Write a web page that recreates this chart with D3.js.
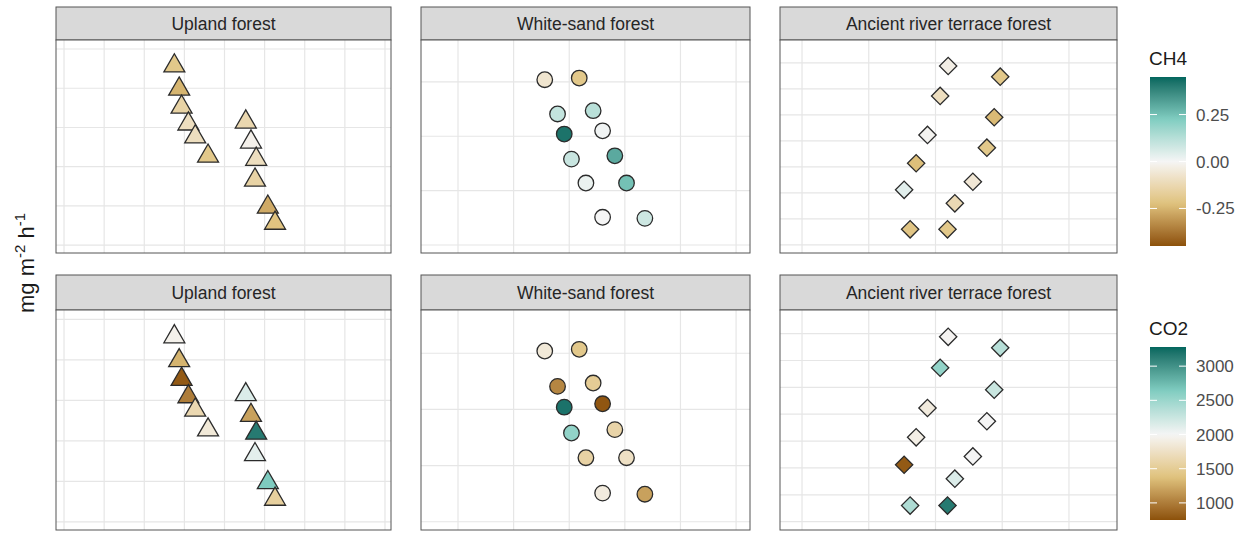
<!DOCTYPE html>
<html>
<head>
<meta charset="utf-8">
<script src="https://cdn.jsdelivr.net/npm/d3@7"></script>
<style>
  body { margin: 0; background: #fff; }
  text { font-family: "Liberation Sans", Arial, sans-serif; }
</style>
</head>
<body>
<div id="chart"></div>
<script>
// sites (facets)
const sites = ["Upland forest", "White-sand forest", "Ancient river terrace forest"];

// plot coordinates per site (grid units, one gridline every 10)
const uplandX = [27.5, 28.7, 29.3, 31.0, 32.7, 35.9, 45.3, 46.6, 47.9, 47.6, 50.8, 52.6];
const uplandY = [45.7, 39.8, 35.2, 30.9, 27.6, 22.7, 31.4, 26.3, 21.9, 16.6, 9.7, 5.6];
const uplandCH4 = [-0.20, -0.25, -0.15, -0.10, -0.10, -0.20, -0.13, -0.02, -0.10, -0.15, -0.27, -0.22];
const uplandCO2 = [1950, 1300, 800, 1000, 1650, 1850, 2150, 1200, 3150, 2100, 2650, 1550];

const whiteX = [15.6, 21.8, 17.9, 24.3, 19.1, 26.0, 20.4, 28.2, 23.0, 30.3, 26.0, 33.6];
const whiteY = [30.4, 30.7, 24.1, 24.7, 20.4, 21.0, 15.8, 16.4, 11.4, 11.4, 5.1, 4.9];
const whiteCH4 = [-0.07, -0.20, 0.10, 0.12, 0.42, 0.01, 0.09, 0.30, 0.02, 0.25, 0.00, 0.08];
const whiteCO2 = [1850, 1450, 1050, 1500, 3200, 780, 2550, 1600, 1580, 1750, 1880, 1200];

const terraceX = [21.9, 29.7, 20.7, 28.8, 18.8, 27.7, 17.1, 25.6, 15.3, 22.9, 16.2, 21.8];
const terraceY = [68.8, 64.7, 57.3, 49.1, 42.3, 37.4, 31.4, 24.3, 21.2, 16.0, 6.0, 6.0];
const terraceCH4 = [-0.03, -0.20, -0.10, -0.24, -0.01, -0.20, -0.23, -0.06, 0.04, -0.12, -0.21, -0.20];
const terraceCO2 = [1980, 2350, 2550, 2250, 1880, 2000, 1920, 2000, 800, 2150, 2400, 3150];

// colour bar tick labels
const ch4Ticks = [0.25, 0.00, -0.25];
const co2Ticks = [3000, 2500, 2000, 1500, 1000];

// build table
const siteData = [
  { name: sites[0], x: uplandX, y: uplandY, ch4: uplandCH4, co2: uplandCO2, shape: "triangle",
    xDomain: [-2, 81.5], yDomain: [-2, 52.3] },
  { name: sites[1], x: whiteX, y: whiteY, ch4: whiteCH4, co2: whiteCO2, shape: "circle",
    xDomain: [-6.65, 52.5], yDomain: [-1.47, 37.7] },
  { name: sites[2], x: terraceX, y: terraceY, ch4: terraceCH4, co2: terraceCO2, shape: "diamond",
    xDomain: [-3.3, 47.2], yDomain: [-3.1, 78.8] }
];

const W = 1248, H = 533;
const svg = d3.select("#chart").append("svg")
  .attr("width", W)
  .attr("height", H);

const cols = [{ x0: 56, x1: 391 }, { x0: 421, x1: 750 }, { x0: 780, x1: 1117 }];
const rows = [
  { stripTop: 7, top: 40, bottom: 253, key: "ch4" },
  { stripTop: 275, top: 310, bottom: 530, key: "co2" }
];

const pal = ["#8c510a", "#dfc27d", "#f5f5f5", "#80cdc1", "#01665e"];
const colour = {
  ch4: d3.scaleLinear().domain([-0.45, -0.225, 0, 0.225, 0.45]).range(pal).interpolate(d3.interpolateLab),
  co2: d3.scaleLinear().domain([750, 1375, 2000, 2640, 3280]).range(pal).interpolate(d3.interpolateLab)
};

const symbols = {
  triangle: d3.symbol(d3.symbolTriangle, 190)(),
  circle: d3.symbol(d3.symbolCircle, 190)(),
  diamond: d3.symbol(d3.symbolSquare, 150)()
};

rows.forEach(row => {
  siteData.forEach((site, i) => {
    const c = cols[i];
    const x = d3.scaleLinear().domain(site.xDomain).range([c.x0, c.x1]);
    const y = d3.scaleLinear().domain(site.yDomain).range([row.bottom, row.top]);
    const g = svg.append("g");

    // strip
    g.append("rect")
      .attr("x", c.x0).attr("y", row.stripTop)
      .attr("width", c.x1 - c.x0).attr("height", row.top - row.stripTop)
      .attr("fill", "#d9d9d9").attr("stroke", "#555").attr("stroke-width", 1);
    g.append("text")
      .attr("x", (c.x0 + c.x1) / 2).attr("y", (row.stripTop + row.top) / 2 + 6)
      .attr("text-anchor", "middle").attr("font-size", 17.5).attr("fill", "#262626")
      .text(site.name);

    // panel background + grid
    g.append("rect")
      .attr("x", c.x0).attr("y", row.top)
      .attr("width", c.x1 - c.x0).attr("height", row.bottom - row.top)
      .attr("fill", "#fff");
    const xs = d3.range(0, site.xDomain[1], 10);
    const ys = d3.range(0, site.yDomain[1], 10);
    g.selectAll(".gx").data(xs).join("line")
      .attr("x1", d => x(d)).attr("x2", d => x(d))
      .attr("y1", row.top).attr("y2", row.bottom)
      .attr("stroke", "#e6e6e6").attr("stroke-width", 1.2);
    g.selectAll(".gy").data(ys).join("line")
      .attr("x1", c.x0).attr("x2", c.x1)
      .attr("y1", d => y(d)).attr("y2", d => y(d))
      .attr("stroke", "#e6e6e6").attr("stroke-width", 1.2);

    // points
    const pts = site.x.map((v, k) => ({ x: v, y: site.y[k], v: site[row.key][k] }));
    g.selectAll(".pt").data(pts).join("path")
      .attr("d", symbols[site.shape])
      .attr("transform", d => `translate(${x(d.x)},${y(d.y)})` + (site.shape === "diamond" ? " rotate(45)" : ""))
      .attr("fill", d => colour[row.key](d.v))
      .attr("stroke", "#2b2b2b").attr("stroke-width", 1.3);

    // panel border
    g.append("rect")
      .attr("x", c.x0).attr("y", row.top)
      .attr("width", c.x1 - c.x0).attr("height", row.bottom - row.top)
      .attr("fill", "none").attr("stroke", "#555").attr("stroke-width", 1);
  });
});

// y axis title
const yl = svg.append("text")
  .attr("transform", "translate(34,263) rotate(-90)")
  .attr("text-anchor", "middle").attr("font-size", 22).attr("fill", "#1a1a1a");
yl.append("tspan").text("mg m");
yl.append("tspan").attr("font-size", 15).attr("dy", -9).text("-2");
yl.append("tspan").attr("dy", 9).text(" h");
yl.append("tspan").attr("font-size", 15).attr("dy", -9).text("-1");

// colour bars
function colourBar(title, scale, ticks, top, bottom, lo, hi, fmt) {
  const bx = 1150, bw = 36;
  const id = "grad-" + title;
  const grad = svg.append("defs").append("linearGradient")
    .attr("id", id).attr("x1", 0).attr("y1", 1).attr("x2", 0).attr("y2", 0);
  d3.range(0, 1.0001, 0.02).forEach(t => {
    grad.append("stop").attr("offset", t).attr("stop-color", scale(lo + t * (hi - lo)));
  });
  svg.append("text").attr("x", bx - 1).attr("y", top - 12)
    .attr("font-size", 19).attr("fill", "#1a1a1a").text(title);
  svg.append("rect").attr("x", bx).attr("y", top).attr("width", bw).attr("height", bottom - top)
    .attr("fill", `url(#${id})`);
  const ty = d3.scaleLinear().domain([lo, hi]).range([bottom, top]);
  ticks.forEach(t => {
    svg.append("line").attr("x1", bx).attr("x2", bx + 7).attr("y1", ty(t)).attr("y2", ty(t))
      .attr("stroke", "#fff").attr("stroke-width", 1);
    svg.append("line").attr("x1", bx + bw - 7).attr("x2", bx + bw).attr("y1", ty(t)).attr("y2", ty(t))
      .attr("stroke", "#fff").attr("stroke-width", 1);
    svg.append("text").attr("x", bx + bw + 10).attr("y", ty(t) + 6)
      .attr("font-size", 17).attr("fill", "#4d4d4d")
      .text(fmt(t));
  });
}
colourBar("CH4", colour.ch4, ch4Ticks, 77, 246, -0.45, 0.45, t => d3.format(".2f")(t).replace("\u2212", "-"));
colourBar("CO2", colour.co2, co2Ticks, 347, 520, 750, 3280, t => String(t));
</script>
</body>
</html>
